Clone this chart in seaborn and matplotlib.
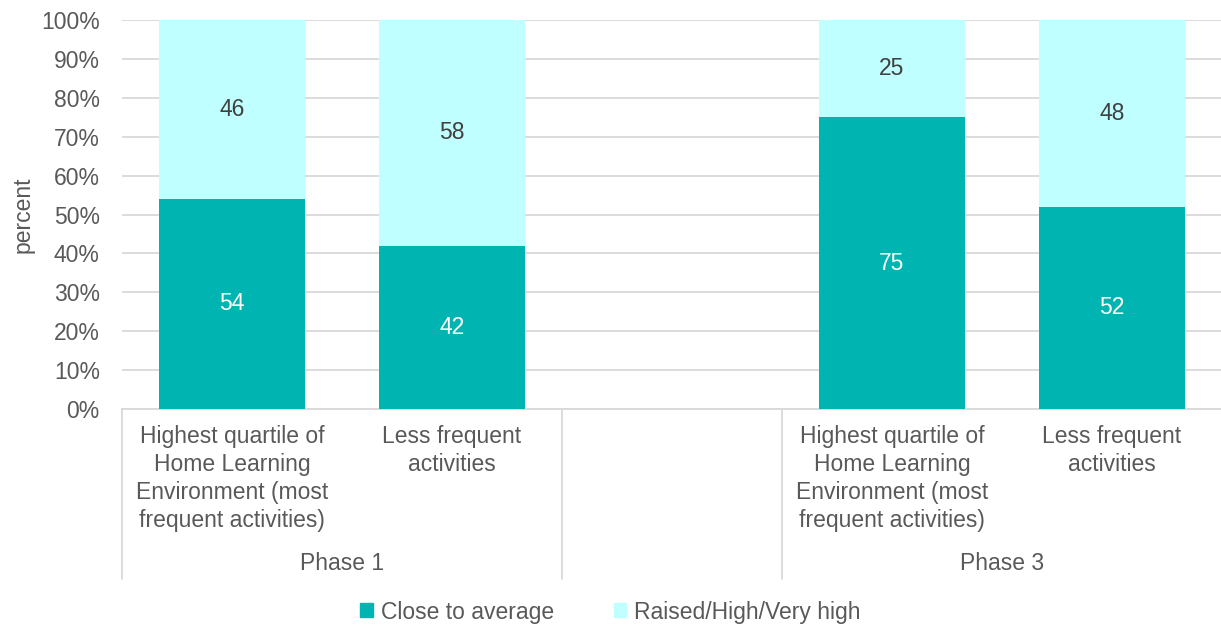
import matplotlib
matplotlib.use("Agg")
import matplotlib.pyplot as plt
import matplotlib.transforms as mtransforms
from matplotlib.patches import Patch
import seaborn as sns
import pandas as pd

# data
slots = ["p1_high", "p1_less", "gap", "p3_high", "p3_less"]
bar_slots = ["p1_high", "p1_less", "p3_high", "p3_less"]
cat_labels = ["Highest quartile of\nHome Learning\nEnvironment (most\nfrequent activities)",
              "Less frequent\nactivities",
              "",
              "Highest quartile of\nHome Learning\nEnvironment (most\nfrequent activities)",
              "Less frequent\nactivities"]
phases = ["Phase 1", "", "Phase 3"]
close_avg = [54, 42, 75, 52]
raised = [46, 58, 25, 48]

dark = "#00B5B1"
light = "#C0FFFF"
txt = "#595959"
grid = "#D9D9D9"
fs = 16.5

df = pd.DataFrame({"slot": bar_slots, "close": close_avg, "raised": raised})
df["total"] = df["close"] + df["raised"]

sns.set_theme(style="white")
plt.rcParams["font.family"] = ["Liberation Sans", "DejaVu Sans"]

fig = plt.figure(figsize=(12.21, 6.31), dpi=100)
ax = fig.add_axes([122 / 1221, 222 / 631, 1100 / 1221, 389 / 631])

sns.barplot(data=df, x="slot", y="total", order=slots, color=light,
            width=0.66, ax=ax, zorder=3, saturation=1, linewidth=0)
sns.barplot(data=df, x="slot", y="close", order=slots, color=dark,
            width=0.66, ax=ax, zorder=3, saturation=1, linewidth=0)

# segment labels
for i, s in enumerate(bar_slots):
    xi = slots.index(s)
    ax.text(xi, close_avg[i] / 2, str(close_avg[i]), ha="center", va="center",
            color="white", fontsize=fs, zorder=4)
    ax.text(xi, close_avg[i] + raised[i] / 2, str(raised[i]), ha="center",
            va="center", color="#404040", fontsize=fs, zorder=4)

ax.set_xlim(-0.5, len(slots) - 0.5)
ax.set_ylim(0, 100)
ax.set_yticks(range(0, 101, 10))
ax.set_yticklabels([f"{v}%" for v in range(0, 101, 10)], color=txt, fontsize=fs)
ax.tick_params(axis="y", length=0, pad=16)
ax.yaxis.grid(True, color=grid, linewidth=1.3, zorder=0)
ax.set_axisbelow(True)
ax.set_xticks([])
ax.set_xlabel("")
ax.set_ylabel("percent", color=txt, fontsize=fs, labelpad=5)
for side in ["left", "right", "top"]:
    ax.spines[side].set_visible(False)
ax.spines["bottom"].set_color(grid)
ax.spines["bottom"].set_linewidth(1.3)

trans = mtransforms.blended_transform_factory(ax.transData, ax.transAxes)
for i, lab in enumerate(cat_labels):
    ax.text(i, -0.042, lab, transform=trans, ha="center", va="top",
            color=txt, fontsize=fs, linespacing=1.28, clip_on=False)

# group labels and separators
groups = [(-0.5, 1.5), (1.5, 2.5), (2.5, 4.5)]
for (a, b), ph in zip(groups, phases):
    ax.text((a + b) / 2, -0.396, ph, transform=trans, ha="center", va="center",
            color=txt, fontsize=fs, clip_on=False)
for xb in [-0.5, 1.5, 2.5]:
    ax.plot([xb, xb], [0, -0.436], transform=trans, color=grid, lw=1.3,
            clip_on=False)

handles = [Patch(color=dark, label="Close to average"),
           Patch(color=light, label="Raised/High/Very high")]
fig.legend(handles=handles, loc="center", bbox_to_anchor=(0.5, 1 - 612 / 631),
           ncol=2, frameon=False, fontsize=fs, labelcolor=txt,
           handlelength=0.55, handleheight=0.55, handletextpad=0.35, columnspacing=2.6)

fig.savefig("out.png", dpi=100)
